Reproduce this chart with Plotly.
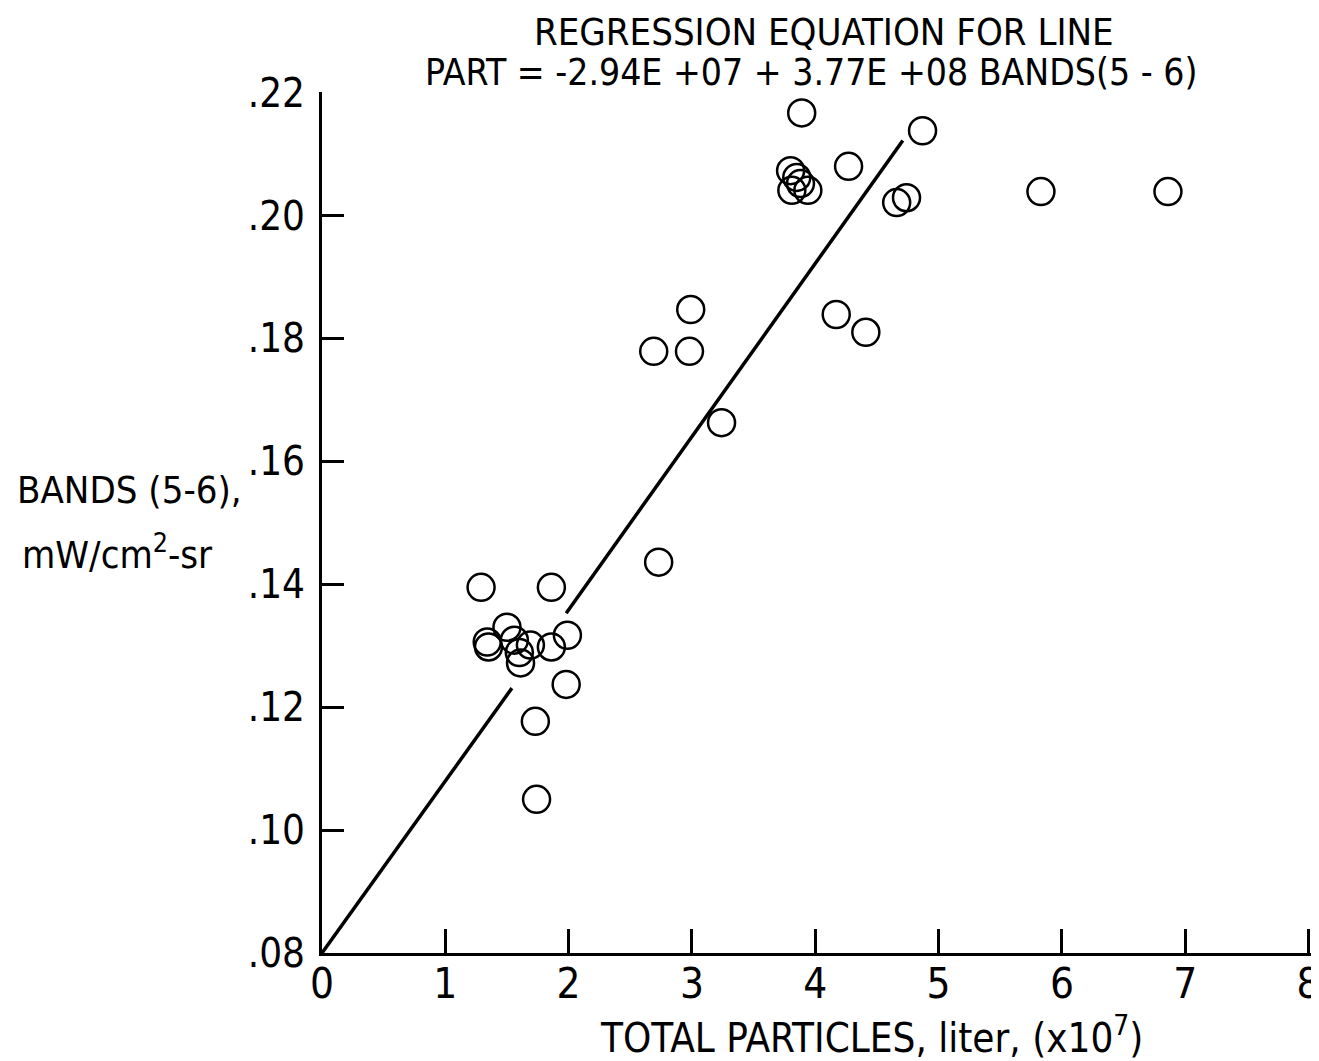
import plotly.graph_objects as go

# data
particles = [3.89, 4.87, 3.80, 4.27, 3.85, 3.88, 3.81, 3.94, 4.66, 4.74, 5.83, 6.86,
             2.99, 2.69, 2.98, 4.17, 4.41, 3.24, 2.73,
             1.29, 1.86, 1.50, 1.34, 1.35, 1.56, 1.60, 1.69, 1.61, 1.86, 1.99, 1.98, 1.73, 1.74]
bands = [0.2167, 0.2138, 0.2073, 0.2080, 0.2062, 0.2052, 0.2041, 0.2041, 0.2021, 0.2029, 0.2039, 0.2039,
         0.1847, 0.1779, 0.1779, 0.1839, 0.1810, 0.1663, 0.1436,
         0.1395, 0.1395, 0.1330, 0.1306, 0.1298, 0.1309, 0.1289, 0.1301, 0.1272, 0.1298, 0.1317, 0.1237, 0.1177, 0.1050]

# regression line, drawn in two pieces (break where it crosses the cluster)
line_lo_x = [0.0, 1.54]
line_lo_y = [0.080, 0.1231]
line_hi_x = [1.98, 4.71]
line_hi_y = [0.1353, 0.2122]

x_ticks = [0, 1, 2, 3, 4, 5, 6, 7, 8]
y_ticks = [0.08, 0.10, 0.12, 0.14, 0.16, 0.18, 0.20, 0.22]
y_tick_text = [".08", ".10", ".12", ".14", ".16", ".18", ".20", ".22"]

FONT = "DejaVu Sans Condensed, Liberation Sans Narrow, sans-serif"

fig = go.Figure()

for lx, ly in [(line_lo_x, line_lo_y), (line_hi_x, line_hi_y)]:
    fig.add_trace(go.Scatter(
        x=lx, y=ly, mode="lines",
        line=dict(color="black", width=3.5),
        hoverinfo="skip"
    ))

fig.add_trace(go.Scatter(
    x=particles, y=bands, mode="markers",
    marker=dict(symbol="circle-open", size=27, color="black",
                line=dict(color="black", width=2.5)),
    cliponaxis=False
))

# range ends a hair past 8 so plotly keeps the inside tick at 8
fig.update_xaxes(
    range=[0, 8.02], tickvals=x_ticks, ticktext=[str(v) for v in x_ticks],
    showline=True, linecolor="black", linewidth=3,
    ticks="inside", ticklen=24, tickwidth=2.5, tickcolor="black",
    showgrid=False, zeroline=False, automargin=False,
    tickfont=dict(family=FONT, size=42, color="black"),
    ticklabelstandoff=-8, ticklabeloverflow="allow"
)
fig.update_yaxes(
    range=[0.08, 0.2201], tickvals=y_ticks, ticktext=y_tick_text,
    showline=True, linecolor="black", linewidth=3,
    ticks="inside", ticklen=22, tickwidth=2.5, tickcolor="black",
    showgrid=False, zeroline=False, automargin=False,
    tickfont=dict(family=FONT, size=40, color="black"),
    ticklabelstandoff=6
)

txt = dict(family=FONT, size=38, color="black")
annos = [
    dict(text="REGRESSION EQUATION FOR LINE", x=0.508, y=1.0 + 60 / 861, size=38),
    dict(text="PART = -2.94E +07 + 3.77E +08 BANDS(5 - 6)", x=0.494, y=1.0 + 19 / 861, size=37),
    dict(text="TOTAL PARTICLES, liter, (x10<sup>7</sup>)", x=0.556, y=-82 / 861, size=40),
]
for a in annos:
    fig.add_annotation(text=a["text"], x=a["x"], y=a["y"], xref="paper", yref="paper",
                       xanchor="center", yanchor="middle", showarrow=False,
                       font=dict(family=FONT, size=a["size"], color="black"))

fig.add_annotation(text="BANDS (5-6),", xref="paper", yref="paper",
                   x=-307 / 989, y=(953 - 490) / 861, xanchor="left", yanchor="middle",
                   showarrow=False, font=txt)
fig.add_annotation(text="mW/cm<sup>2</sup>-sr", xref="paper", yref="paper",
                   x=-302 / 989, y=(953 - 552) / 861, xanchor="left", yanchor="middle",
                   showarrow=False, font=txt)

# page body adds an 8px margin, so the figure is 8px smaller and shifted
fig.update_layout(
    width=1311, height=1053,
    margin=dict(l=314, r=8, t=84, b=108),
    paper_bgcolor="white", plot_bgcolor="white",
    showlegend=False
)

fig.write_html("out.html")
